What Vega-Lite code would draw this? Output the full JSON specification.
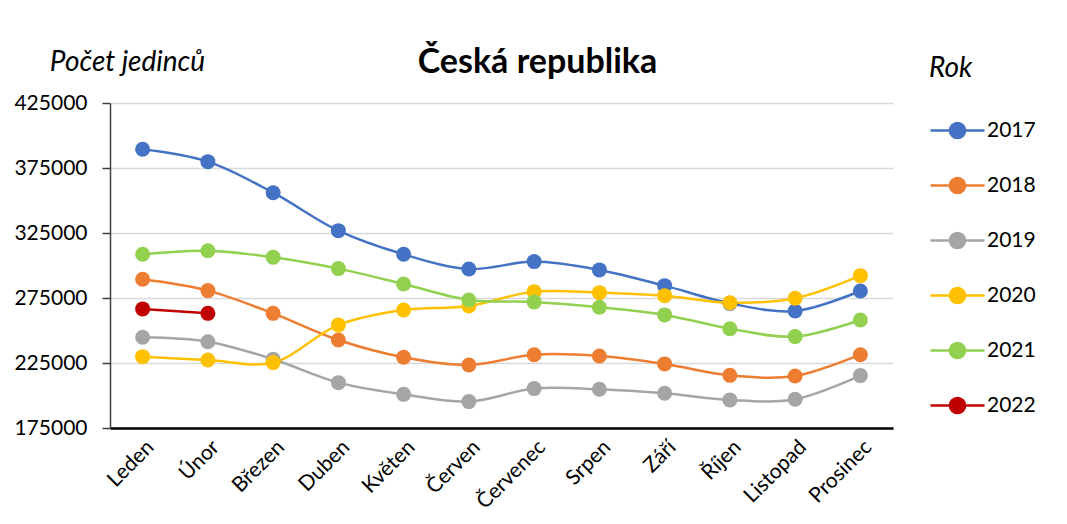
{
  "$schema": "https://vega.github.io/schema/vega-lite/v6.json",
  "autosize": {"type": "none"},
  "width": 783,
  "height": 325,
  "padding": {"left": 110, "top": 103, "right": 174, "bottom": 96},
  "background": "white",
  "config": {
    "font": "Lato",
    "view": {"stroke": null}
  },
  "title": {
    "text": "Česká republika",
    "font": "Lato",
    "fontSize": 34,
    "fontWeight": "bold",
    "color": "black",
    "anchor": "middle",
    "dx": 36,
    "dy": 59,
    "baseline": "alphabetic",
    "offset": 0
  },
  "data": {
    "values": [
      {"m": "Leden", "y": "2017", "v": 389400}, {"m": "Únor", "y": "2017", "v": 379900}, {"m": "Březen", "y": "2017", "v": 356000}, {"m": "Duben", "y": "2017", "v": 326800}, {"m": "Květen", "y": "2017", "v": 308600}, {"m": "Červen", "y": "2017", "v": 297300}, {"m": "Červenec", "y": "2017", "v": 303000}, {"m": "Srpen", "y": "2017", "v": 296600}, {"m": "Září", "y": "2017", "v": 284500}, {"m": "Říjen", "y": "2017", "v": 270900}, {"m": "Listopad", "y": "2017", "v": 265000}, {"m": "Prosinec", "y": "2017", "v": 280400},
      {"m": "Leden", "y": "2018", "v": 289400}, {"m": "Únor", "y": "2018", "v": 280700}, {"m": "Březen", "y": "2018", "v": 263200}, {"m": "Duben", "y": "2018", "v": 242700}, {"m": "Květen", "y": "2018", "v": 229400}, {"m": "Červen", "y": "2018", "v": 223500}, {"m": "Červenec", "y": "2018", "v": 231400}, {"m": "Srpen", "y": "2018", "v": 230400}, {"m": "Září", "y": "2018", "v": 224300}, {"m": "Říjen", "y": "2018", "v": 215500}, {"m": "Listopad", "y": "2018", "v": 215000}, {"m": "Prosinec", "y": "2018", "v": 231400},
      {"m": "Leden", "y": "2019", "v": 244800}, {"m": "Únor", "y": "2019", "v": 241400}, {"m": "Březen", "y": "2019", "v": 227900}, {"m": "Duben", "y": "2019", "v": 209900}, {"m": "Květen", "y": "2019", "v": 200900}, {"m": "Červen", "y": "2019", "v": 195300}, {"m": "Červenec", "y": "2019", "v": 205300}, {"m": "Srpen", "y": "2019", "v": 204800}, {"m": "Září", "y": "2019", "v": 201700}, {"m": "Říjen", "y": "2019", "v": 196600}, {"m": "Listopad", "y": "2019", "v": 197100}, {"m": "Prosinec", "y": "2019", "v": 215300},
      {"m": "Leden", "y": "2020", "v": 229900}, {"m": "Únor", "y": "2020", "v": 227300}, {"m": "Březen", "y": "2020", "v": 225300}, {"m": "Duben", "y": "2020", "v": 254300}, {"m": "Květen", "y": "2020", "v": 265800}, {"m": "Červen", "y": "2020", "v": 268900}, {"m": "Červenec", "y": "2020", "v": 279900}, {"m": "Srpen", "y": "2020", "v": 279100}, {"m": "Září", "y": "2020", "v": 276800}, {"m": "Říjen", "y": "2020", "v": 271400}, {"m": "Listopad", "y": "2020", "v": 274800}, {"m": "Prosinec", "y": "2020", "v": 292200},
      {"m": "Leden", "y": "2021", "v": 308600}, {"m": "Únor", "y": "2021", "v": 311400}, {"m": "Březen", "y": "2021", "v": 306300}, {"m": "Duben", "y": "2021", "v": 297600}, {"m": "Květen", "y": "2021", "v": 285800}, {"m": "Červen", "y": "2021", "v": 273500}, {"m": "Červenec", "y": "2021", "v": 272000}, {"m": "Srpen", "y": "2021", "v": 267900}, {"m": "Září", "y": "2021", "v": 262000}, {"m": "Říjen", "y": "2021", "v": 251400}, {"m": "Listopad", "y": "2021", "v": 245300}, {"m": "Prosinec", "y": "2021", "v": 258100},
      {"m": "Leden", "y": "2022", "v": 266600}, {"m": "Únor", "y": "2022", "v": 263200}
    ]
  },
  "encoding": {
    "x": {
      "field": "m",
      "type": "ordinal",
      "sort": ["Leden", "Únor", "Březen", "Duben", "Květen", "Červen", "Červenec", "Srpen", "Září", "Říjen", "Listopad", "Prosinec"],
      "scale": {"type": "point", "padding": 0.5},
      "axis": {
        "title": null,
        "labelAngle": -45,
        "labelFont": "Lato",
        "labelFontSize": 21,
        "labelColor": "black",
        "labelPadding": 8,
        "ticks": false,
        "domainColor": "black",
        "domainWidth": 2.5,
        "grid": false
      }
    },
    "y": {
      "field": "v",
      "type": "quantitative",
      "scale": {"domain": [175000, 425000], "nice": false, "zero": false},
      "axis": {
        "values": [175000, 225000, 275000, 325000, 375000, 425000],
        "format": "d",
        "labelFont": "Lato",
        "labelFontSize": 21,
        "labelColor": "black",
        "labelPadding": 15,
        "tickSize": 8,
        "tickColor": "#404040",
        "tickWidth": 1.5,
        "domainColor": "#404040",
        "domainWidth": 1.5,
        "gridColor": "#d9d9d9",
        "gridWidth": 1.5,
        "title": "Počet jedinců",
        "titleAngle": 0,
        "titleFont": "Lato",
        "titleFontSize": 28,
        "titleFontStyle": "italic",
        "titleFontWeight": "normal",
        "titleColor": "black",
        "titleAlign": "center",
        "titleBaseline": "middle",
        "titleX": 17,
        "titleY": -41
      }
    },
    "color": {
      "field": "y",
      "type": "nominal",
      "scale": {
        "domain": ["2017", "2018", "2019", "2020", "2021", "2022"],
        "range": ["#4472C4", "#ED7D31", "#A5A5A5", "#FFC000", "#92D050", "#C00000"]
      },
      "legend": {
        "title": "Rok",
        "orient": "none",
        "legendX": 819,
        "legendY": -48,
        "titleFont": "Lato",
        "titleFontSize": 28,
        "titleFontStyle": "italic",
        "titleFontWeight": "normal",
        "titleColor": "black",
        "titlePadding": 19,
        "labelFont": "Lato",
        "labelFontSize": 21,
        "labelColor": "black",
        "labelOffset": 1,
        "symbolType": "M-1,0L1,0M-0.28,0A0.28,0.28,0,1,1,0.28,0A0.28,0.28,0,1,1,-0.28,0Z",
        "symbolSize": 2916,
        "symbolStrokeWidth": 2.5,
        "rowPadding": 13,
        "encode": {
          "symbols": {
            "update": {
              "fill": {"scale": "color", "field": "value"},
              "stroke": {"scale": "color", "field": "value"},
              "opacity": {"value": 1}
            }
          }
        }
      }
    }
  },
  "layer": [
    {
      "mark": {"type": "line", "interpolate": "catmull-rom", "strokeWidth": 2.5},
      "encoding": {"detail": {"field": "y"}}
    },
    {
      "mark": {"type": "point", "filled": true, "size": 225, "opacity": 1, "shape": "circle"}
    }
  ]
}
